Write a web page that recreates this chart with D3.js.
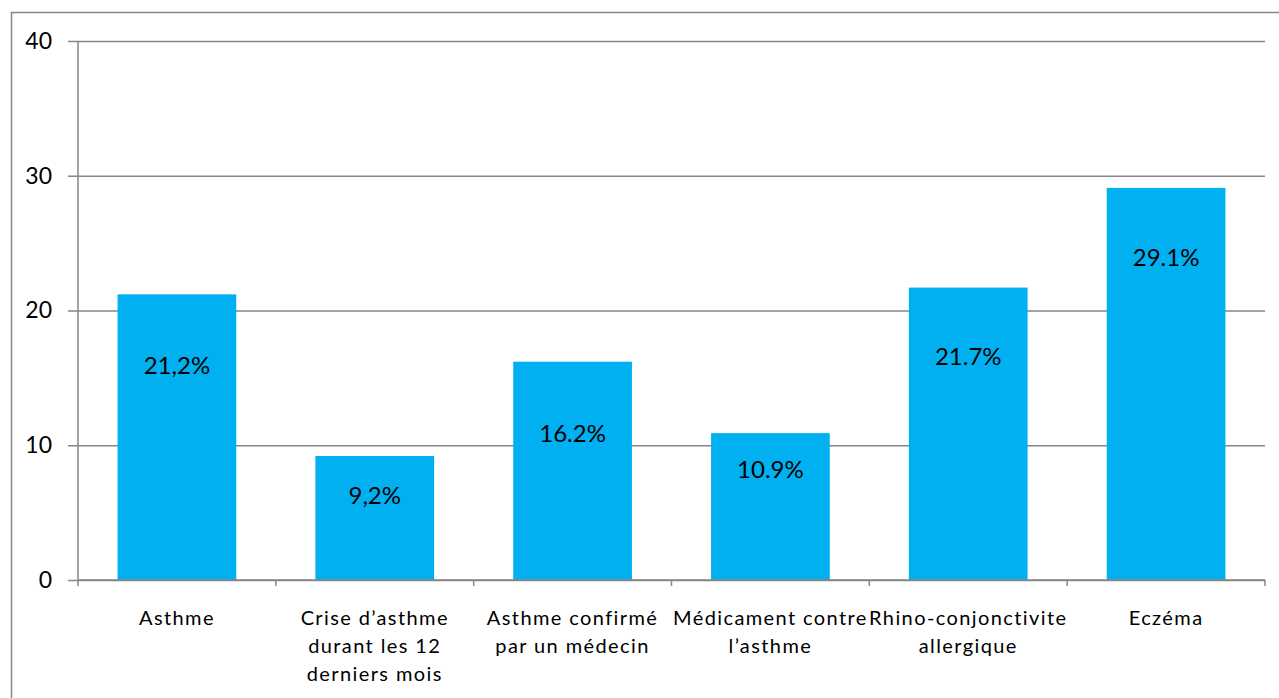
<!DOCTYPE html>
<html>
<head>
<meta charset="utf-8">
<script src="https://cdn.jsdelivr.net/npm/d3@7"></script>
<style>
  html, body { margin: 0; padding: 0; background: #fff; }
  svg { display: block; }
</style>
</head>
<body>
<svg id="chart" width="1279" height="698"></svg>
<script>
// Prévalence des maladies allergiques (%)
const categories = [
  ["Asthme"],
  ["Crise d’asthme", "durant les 12", "derniers mois"],
  ["Asthme confirmé", "par un médecin"],
  ["Médicament contre", "l’asthme"],
  ["Rhino-conjonctivite", "allergique"],
  ["Eczéma"]
];
const values = [21.2, 9.2, 16.2, 10.9, 21.7, 29.1];
const valueLabels = ["21,2%", "9,2%", "16.2%", "10.9%", "21.7%", "29.1%"];
const yTicks = [0, 10, 20, 30, 40];

// depth (px) of each value label below its bar top
const labelDrop = [70, 38, 71, 35, 68, 69];

const svg = d3.select("#chart");
const W = 1279, H = 698;
const plotL = 78, plotR = 1265, plotT = 41, plotB = 580;
const grey = "#868686";
const blue = "#00B0F0";
const font = "Lato, 'Open Sans', sans-serif";

// outer frame
svg.append("rect")
  .attr("x", 11.5).attr("y", 12.5)
  .attr("width", W).attr("height", H)
  .attr("fill", "none").attr("stroke", grey).attr("stroke-width", 1.5);

const x = d3.scaleBand()
  .domain(d3.range(categories.length))
  .range([plotL, plotR])
  .paddingInner(0.4).paddingOuter(0.2);

const y = d3.scaleLinear().domain([0, 40]).range([plotB, plotT]);

// horizontal gridlines with left tick marks
const yAxis = d3.axisLeft(y).tickValues(yTicks).tickSize(-(plotR - plotL)).tickPadding(16).tickSizeOuter(0);
const gy = svg.append("g").attr("transform", `translate(${plotL},0)`).call(yAxis);
gy.select(".domain").remove();
gy.selectAll(".tick line")
  .attr("x1", -10)
  .attr("stroke", grey).attr("stroke-width", 1.5);
gy.selectAll(".tick text")
  .attr("x", -26)
  .attr("fill", "#000")
  .style("font-family", font).style("font-size", "23px");

// vertical axis line
svg.append("line")
  .attr("x1", plotL).attr("x2", plotL)
  .attr("y1", plotT).attr("y2", plotB)
  .attr("stroke", grey).attr("stroke-width", 1.5);

// bars
svg.append("g").selectAll("rect")
  .data(values)
  .join("rect")
  .attr("x", (d, i) => x(i))
  .attr("width", x.bandwidth())
  .attr("y", d => y(d))
  .attr("height", d => y(0) - y(d))
  .attr("fill", blue);

// x axis baseline and category separators
svg.append("line")
  .attr("x1", plotL).attr("x2", plotR)
  .attr("y1", plotB).attr("y2", plotB)
  .attr("stroke", grey).attr("stroke-width", 1.5);
svg.append("g").selectAll("line")
  .data(d3.range(categories.length + 1))
  .join("line")
  .attr("x1", i => plotL + i * (plotR - plotL) / categories.length)
  .attr("x2", i => plotL + i * (plotR - plotL) / categories.length)
  .attr("y1", plotB).attr("y2", plotB + 6)
  .attr("stroke", grey).attr("stroke-width", 1.5);

// value labels
svg.append("g").selectAll("text")
  .data(values)
  .join("text")
  .attr("x", (d, i) => x(i) + x.bandwidth() / 2)
  .attr("y", (d, i) => y(d) + labelDrop[i])
  .attr("text-anchor", "middle")
  .attr("dominant-baseline", "central")
  .attr("fill", "#000")
  .style("font-family", font).style("font-size", "24px")
  .text((d, i) => valueLabels[i]);

// category labels
const cat = svg.append("g").selectAll("text")
  .data(categories)
  .join("text")
  .attr("x", (d, i) => x(i) + x.bandwidth() / 2)
  .attr("y", 617)
  .attr("text-anchor", "middle")
  .attr("fill", "#000")
  .style("font-family", font).style("font-size", "20px")
  .style("letter-spacing", "1.4px");
cat.selectAll("tspan")
  .data(d => d)
  .join("tspan")
  .attr("x", function () { return this.parentNode.getAttribute("x"); })
  .attr("y", (d, j) => 617 + j * 28)
  .attr("dominant-baseline", "central")
  .text(d => d);
</script>
</body>
</html>
